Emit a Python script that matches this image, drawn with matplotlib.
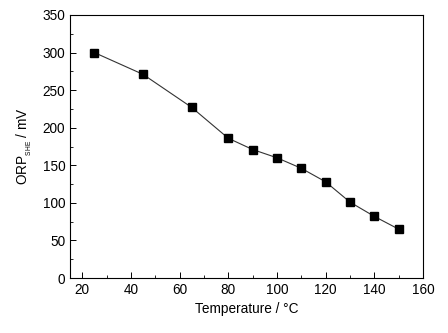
import matplotlib.pyplot as plt
from matplotlib.ticker import MultipleLocator

plt.rcParams['font.family'] = ['Liberation Sans', 'DejaVu Sans']
plt.rcParams['mathtext.fontset'] = 'custom'
plt.rcParams['mathtext.rm'] = 'Liberation Sans'

# Oxidation-reduction potential vs. temperature
temperature = [25, 45, 65, 80, 90, 100, 110, 120, 130, 140, 150]
orp_she = [300, 271, 227, 186, 171, 160, 146, 128, 101, 82, 65]

fig = plt.figure(figsize=(4.48, 3.33), dpi=100)
ax = fig.add_axes([70 / 448, 1 - 278 / 333, (423 - 70) / 448, (278 - 15) / 333])

ax.plot(temperature, orp_she, color='#333333', lw=0.8,
        marker='s', ms=5.5, mfc='black', mec='black')

ax.set_xlim(15, 160)
ax.set_ylim(0, 350)
ax.xaxis.set_major_locator(MultipleLocator(20))
ax.xaxis.set_minor_locator(MultipleLocator(10))
ax.yaxis.set_major_locator(MultipleLocator(50))
ax.yaxis.set_minor_locator(MultipleLocator(25))
ax.tick_params(which='both', direction='in', top=False, right=False,
               labelsize=9.8, colors='black')
ax.tick_params(which='major', length=4, width=0.7)
ax.tick_params(which='minor', length=2, width=0.6)
for s in ax.spines.values():
    s.set_linewidth(0.8)

ax.set_xlabel('Temperature / \u00b0C', fontsize=9.8, labelpad=4)
ax.set_ylabel(r'ORP$_{_{\mathrm{SHE}}}$ / mV', fontsize=9.8, labelpad=6)

fig.savefig('out.png', dpi=100)
